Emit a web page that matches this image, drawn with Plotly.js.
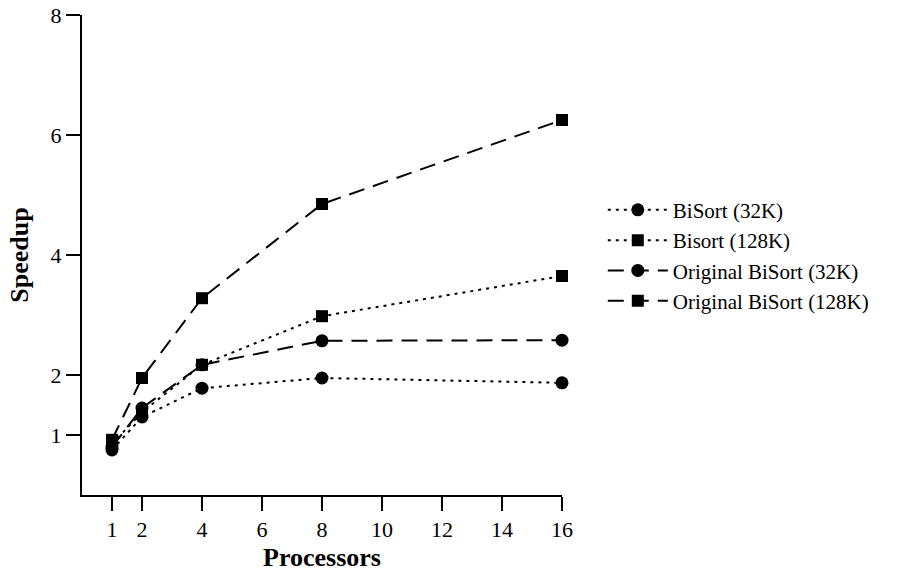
<!DOCTYPE html>
<html>
<head>
<meta charset="utf-8">
<script src="https://cdn.plot.ly/plotly-3.0.1.min.js"></script>
<style>html,body{margin:0;padding:0;background:#fff;}#chart{width:901px;height:573px;}</style>
</head>
<body>
<div id="chart"></div>
<script>
const processors = [1, 2, 4, 8, 16];
const bisort32 = [0.75, 1.30, 1.78, 1.95, 1.87];
const bisort128 = [0.85, 1.38, 2.17, 2.98, 3.65];
const orig32 = [0.80, 1.45, 2.17, 2.57, 2.58];
const orig128 = [0.92, 1.95, 3.28, 4.85, 6.25];
const names = ["BiSort (32K)", "Bisort (128K)", "Original BiSort (32K)", "Original BiSort (128K)"];
const xTicks = [1, 2, 4, 6, 8, 10, 12, 14, 16];
const yTicks = [1, 2, 4, 6, 8];

const dotDash = "3px,5px";
const longDash = "16px,9px";
function tr(y, name, symbol, dash) {
  return {
    x: processors, y: y, name: name, type: "scatter", mode: "lines+markers",
    cliponaxis: false,
    line: {color: "#000", width: 2, dash: dash},
    marker: {symbol: symbol, size: symbol === "square" ? 12 : 13, color: "#000"}
  };
}
const data = [
  tr(bisort32, names[0], "circle", dotDash),
  tr(bisort128, names[1], "square", dotDash),
  tr(orig32, names[2], "circle", longDash),
  tr(orig128, names[3], "square", longDash)
];
const fam = "Liberation Serif, Times New Roman, serif";
const layout = {
  width: 901, height: 573,
  margin: {l: 82, r: 339, t: 15, b: 78},
  paper_bgcolor: "#fff", plot_bgcolor: "#fff",
  font: {family: fam, size: 22, color: "#000"},
  showlegend: true,
  legend: {x: 1.085, xanchor: "left", y: 0.636, yanchor: "top", font: {family: fam, size: 21, color: "#000"}, bgcolor: "rgba(0,0,0,0)", itemwidth: 60, tracegroupgap: 0},
  xaxis: {
    range: [0, 16], tickvals: xTicks, ticktext: xTicks.map(String),
    showgrid: false, zeroline: false, showline: true, linecolor: "#000", linewidth: 2,
    ticks: "outside", ticklen: 14, tickwidth: 1.5, tickcolor: "#000",
    tickfont: {family: fam, size: 22, color: "#000"},
    title: {text: "<b>Processors</b>", font: {family: fam, size: 26, color: "#000"}, standoff: 6}
  },
  yaxis: {
    range: [0, 8], tickvals: yTicks, ticktext: yTicks.map(String),
    showgrid: false, zeroline: false, showline: true, linecolor: "#000", linewidth: 2,
    ticks: "outside", ticklen: 14, tickwidth: 1.5, tickcolor: "#000",
    tickfont: {family: fam, size: 22, color: "#000"},
    title: {text: "<b>Speedup</b>", font: {family: fam, size: 26, color: "#000"}, standoff: 14}
  }
};
Plotly.newPlot("chart", data, layout, {displayModeBar: false, staticPlot: true});
</script>
</body>
</html>
